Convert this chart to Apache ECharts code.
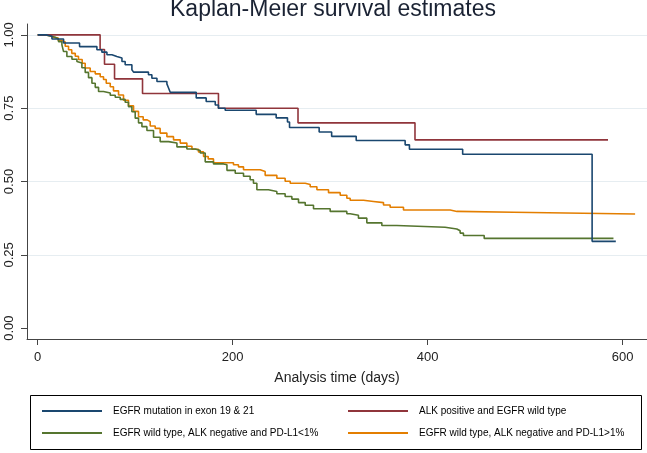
<!DOCTYPE html>
<html>
<head>
<meta charset="utf-8">
<script src="https://cdn.jsdelivr.net/npm/echarts@6/dist/echarts.min.js"></script>
<style>
html,body{margin:0;padding:0;background:#fff;}
#chart{width:647px;height:453px;}
</style>
</head>
<body>
<div id="chart"></div>
<script>
// ---- data (days, survival) ----
var seriesNames = [
  "EGFR mutation in exon 19 & 21",
  "ALK positive and EGFR wild type",
  "EGFR wild type, ALK negative and PD-L1<1%",
  "EGFR wild type, ALK negative and PD-L1>1%"
];
var xTicks = [0, 200, 400, 600];
var yTicks = [0, 0.25, 0.5, 0.75, 1];

var egfrDays = [0, 8.7, 14.6, 26.5, 42.9, 60.7, 65.8, 71.0, 76.1, 81.2, 86.4, 89.7, 96.6, 98.3, 113.6, 117.1, 122.3, 132.5, 134.2, 135.9, 162.6, 172.8, 182.1, 185.4, 192.3, 224.1, 244.6, 256.2, 258.3, 288.7, 301.5, 326.7, 376.9, 381.3, 435.9, 568.7, 593];
var egfrSurv = [1, 0.995, 0.986, 0.972, 0.960, 0.949, 0.941, 0.932, 0.926, 0.921, 0.909, 0.898, 0.881, 0.873, 0.864, 0.852, 0.841, 0.833, 0.819, 0.804, 0.785, 0.773, 0.761, 0.750, 0.743, 0.729, 0.717, 0.703, 0.684, 0.669, 0.654, 0.640, 0.625, 0.610, 0.593, 0.296, 0.296];

var alkDays = [0, 64, 68.5, 78.8, 107.5, 185.4, 267, 387, 585];
var alkSurv = [1, 0.95, 0.90, 0.85, 0.80, 0.75, 0.70, 0.642, 0.642];

var pdlLowDays = [0, 7.7, 12.8, 17.9, 21.3, 24.8, 26.5, 29.9, 35.1, 40.2, 41.8, 45.3, 48.7, 52.1, 55.6, 59.0, 62.4, 67.5, 74.4, 79.5, 84.6, 89.7, 93.1, 96.6, 100.0, 103.4, 106.9, 112.0, 118.8, 125.6, 134.2, 142.8, 153.0, 161.5, 166.7, 171.8, 180.3, 190.6, 194.1, 202.6, 211.1, 217.9, 221.3, 224.8, 236.7, 245.3, 253.8, 260.7, 267.5, 274.4, 282.9, 300.0, 317.1, 320.5, 329.0, 337.6, 353.0, 368.4, 417.9, 429.9, 433.3, 436.7, 458.0, 590.6];
var pdlLowSurv = [1, 0.997, 0.992, 0.986, 0.977, 0.966, 0.943, 0.926, 0.917, 0.909, 0.904, 0.888, 0.872, 0.854, 0.835, 0.821, 0.807, 0.802, 0.794, 0.787, 0.780, 0.770, 0.755, 0.738, 0.716, 0.700, 0.687, 0.674, 0.651, 0.636, 0.631, 0.618, 0.611, 0.606, 0.597, 0.567, 0.560, 0.557, 0.538, 0.528, 0.518, 0.506, 0.494, 0.472, 0.466, 0.458, 0.449, 0.440, 0.428, 0.419, 0.407, 0.398, 0.390, 0.385, 0.375, 0.359, 0.350, 0.344, 0.338, 0.332, 0.324, 0.316, 0.306, 0.306];

var pdlHighDays = [0, 7.7, 12.8, 16.2, 21.0, 24.8, 28.2, 31.6, 34.9, 38.5, 41.8, 45.6, 48.7, 53.8, 59.0, 64.1, 67.5, 70.3, 74.4, 77.7, 82.9, 88.0, 93.1, 98.3, 103.4, 108.2, 112.3, 115.4, 120.5, 125.6, 132.5, 139.3, 146.2, 153.0, 158.2, 164.9, 170.1, 174.9, 180.3, 200.8, 205.9, 211.1, 228.2, 233.3, 245.3, 253.8, 259.0, 274.4, 279.5, 286.4, 298.3, 310.3, 317.1, 320.5, 334.2, 344.4, 354.7, 361.5, 375.2, 423.1, 430.0, 488.0, 612.8];
var pdlHighSurv = [1, 0.997, 0.992, 0.989, 0.981, 0.976, 0.961, 0.949, 0.937, 0.927, 0.916, 0.903, 0.887, 0.875, 0.867, 0.857, 0.848, 0.835, 0.823, 0.809, 0.795, 0.777, 0.758, 0.739, 0.721, 0.710, 0.704, 0.689, 0.681, 0.665, 0.653, 0.642, 0.631, 0.620, 0.610, 0.601, 0.585, 0.577, 0.564, 0.557, 0.550, 0.540, 0.534, 0.521, 0.511, 0.501, 0.494, 0.490, 0.482, 0.472, 0.462, 0.453, 0.443, 0.436, 0.432, 0.428, 0.420, 0.412, 0.403, 0.398, 0.395, 0.389, 0.389];

function pairs(d, s) { return d.map(function (v, i) { return [v, s[i]]; }); }

var colors = ['#1a476f', '#90353b', '#55752f', '#e37e00'];
var FONT = 'Arial, "Liberation Sans", Helvetica, sans-serif';

var chart = echarts.init(document.getElementById('chart'), null, {renderer: 'canvas'});

function mkSeries(name, d, s, color, z) {
  return {
    name: name, type: 'line', step: 'end', showSymbol: false, symbol: 'none',
    data: pairs(d, s), z: z,
    lineStyle: {color: color, width: 1.6},
    itemStyle: {color: color},
    emphasis: {disabled: true}
  };
}

function mkLegend(name, left, top) {
  return {
    data: [name], left: left, top: top,
    icon: 'rect', itemWidth: 60, itemHeight: 2,
    orient: 'horizontal', selectedMode: false,
    textStyle: {fontFamily: FONT, fontSize: 10, color: '#000', padding: [0, 0, 0, 6]}
  };
}

chart.setOption({
  animation: false,
  backgroundColor: '#fff',
  title: {
    text: 'Kaplan-Meier survival estimates',
    left: 165, top: -7,
    textStyle: {fontFamily: FONT, fontSize: 23, fontWeight: 'normal', color: '#1a2233'}
  },
  grid: {left: 27, right: 0, top: 24, bottom: 114, containLabel: false},
  legend: [
    mkLegend(seriesNames[0], 37, 401),
    mkLegend(seriesNames[1], 343, 401),
    mkLegend(seriesNames[2], 37, 423),
    mkLegend(seriesNames[3], 343, 423)
  ],
  graphic: [{
    type: 'rect', left: 28, top: 393, shape: {width: 611, height: 54},
    style: {fill: 'none', stroke: '#000', lineWidth: 1}, silent: true
  }],
  xAxis: {
    type: 'value', min: -11, max: 625,
    name: 'Analysis time (days)', nameLocation: 'middle', nameGap: 32,
    nameTextStyle: {fontFamily: FONT, fontSize: 14, color: '#222'},
    axisLine: {show: true, onZero: false, lineStyle: {color: '#444', width: 1}},
    axisTick: {show: true, length: 6, customValues: xTicks, lineStyle: {color: '#444'}},
    axisLabel: {customValues: xTicks, fontFamily: FONT, fontSize: 13, color: '#222', margin: 12},
    splitLine: {show: false}
  },
  yAxis: {
    type: 'value', min: -0.037, max: 1.037,
    axisLine: {show: true, onZero: false, lineStyle: {color: '#444', width: 1}},
    axisTick: {show: true, length: 6, customValues: yTicks, lineStyle: {color: '#444'}},
    axisLabel: {
      customValues: yTicks, rotate: 90, fontFamily: FONT, fontSize: 13, color: '#222', margin: 11,
      formatter: function (v) { return v.toFixed(2); }
    },
    splitLine: {show: true, lineStyle: {color: ['rgba(0,0,0,0)', '#e6edf1', '#e6edf1', '#e6edf1', '#e6edf1'], width: 1.2}}
  },
  series: [
    mkSeries(seriesNames[3], pdlHighDays, pdlHighSurv, colors[3], 2),
    mkSeries(seriesNames[2], pdlLowDays, pdlLowSurv, colors[2], 3),
    mkSeries(seriesNames[1], alkDays, alkSurv, colors[1], 4),
    mkSeries(seriesNames[0], egfrDays, egfrSurv, colors[0], 5)
  ]
});
</script>
</body>
</html>
